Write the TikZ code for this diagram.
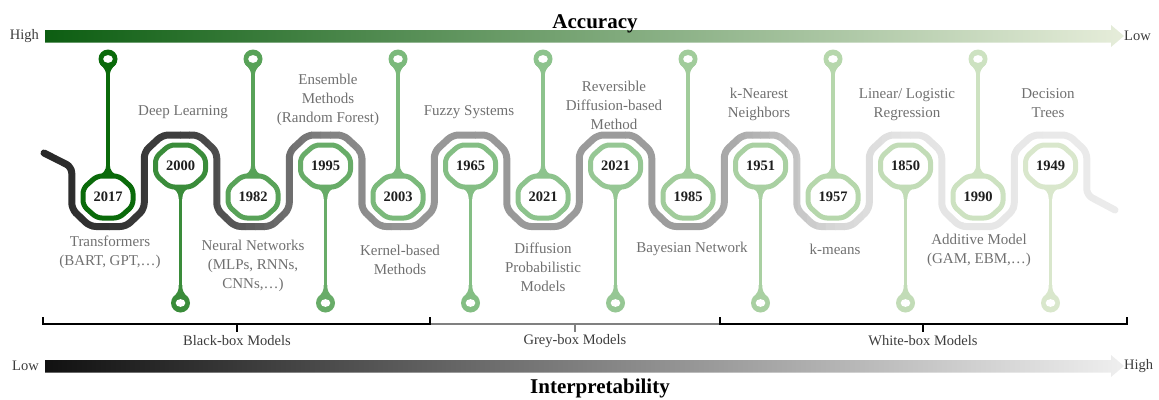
\documentclass[tikz,border=0pt]{standalone}
\usepackage{fontspec}
\setmainfont{Liberation Serif}
\definecolor{labelgray}{HTML}{707070}
\definecolor{yeargray}{HTML}{1E1E1E}
\definecolor{axgray}{HTML}{3C3C3C}
\definecolor{accdark}{HTML}{0D5E12}
\definecolor{accmid}{HTML}{9DBC95}
\definecolor{acclight}{HTML}{E6EDDA}
\definecolor{intdark}{HTML}{111111}
\definecolor{intmid}{HTML}{A5A5A5}
\definecolor{intlight}{HTML}{EFEFEF}
\definecolor{c0}{HTML}{0A6A0A}
\definecolor{c1}{HTML}{3A8C3A}
\definecolor{c2}{HTML}{58A258}
\definecolor{c3}{HTML}{68AC68}
\definecolor{c4}{HTML}{7BB97B}
\definecolor{c5}{HTML}{84BE84}
\definecolor{c6}{HTML}{8DC38D}
\definecolor{c7}{HTML}{96C794}
\definecolor{c8}{HTML}{A1CC9B}
\definecolor{c9}{HTML}{A9D0A2}
\definecolor{c10}{HTML}{B6D7AC}
\definecolor{c11}{HTML}{C2DCB7}
\definecolor{c12}{HTML}{CDE2C1}
\definecolor{c13}{HTML}{D9E7CC}
\begin{document}
\begin{tikzpicture}[x=1pt,y=-1pt,
  snakeline/.style={line width=7pt,line cap=round,line join=round,rounded corners=6pt},
  hexline/.style={line width=5pt,rounded corners=5pt,fill=white},
  stemline/.style={line width=3.5pt},
  lbl/.style={text=labelgray,font=\fontsize{15}{19}\selectfont,align=center},
  yr/.style={text=yeargray,font=\fontsize{14.5}{16}\selectfont\bfseries,inner sep=0pt},
  brk/.style={line width=1.8pt},
  axlbl/.style={text=axgray,font=\fontsize{14.5}{16}\selectfont,inner sep=1pt},
  ttl/.style={text=black,font=\fontsize{21}{24}\selectfont\bfseries,anchor=base}]
\useasboundingbox (0,0) rectangle (1159,399);

\shade[left color=accdark,middle color=accmid,right color=acclight] (45,30) -- (1111,30) -- (1111,25) -- (1124,36) -- (1111,47) -- (1111,42.5) -- (45,42.5) -- cycle;
\shade[left color=intdark,middle color=intmid,right color=intlight] (45,360) -- (1111,360) -- (1111,355) -- (1124,366) -- (1111,377) -- (1111,372.5) -- (45,372.5) -- cycle;
\node[ttl] (acc) at (595,28) {Accuracy};
\node[ttl] (intp) at (600,393) {Interpretability};
\node[axlbl,anchor=east] (acchi) at (40,36) {High};
\node[axlbl,anchor=west] (acclo) at (1123,36) {Low};
\node[axlbl,anchor=east] (intlo) at (40,366) {Low};
\node[axlbl,anchor=west] (inthi) at (1123,366) {High};

\foreach \xa/\ga/\xb/\gb in {38/40/180/62, 180/62/255/95, 255/95/330/130, 330/130/400/150, 400/150/700/158, 700/158/760/180, 760/180/835/215, 835/215/910/228, 910/228/1122/236}{
  \foreach \k in {0,...,7}{
    \pgfmathsetmacro\xl{\xa+(\xb-\xa)*\k/8}
    \pgfmathsetmacro\xr{\xa+(\xb-\xa)*(\k+1)/8+0.6}
    \pgfmathsetmacro\gv{(\ga+(\gb-\ga)*(\k+0.5)/8)/255}
    \definecolor{snakecol}{gray}{\gv}
    \begin{scope}
      \clip (\xl,120) rectangle (\xr,240);
      \draw[snakeline,draw=snakecol] (44,153) -- (71.75,167)
        -- (71.75,209) -- (90,226.5) -- (126,226.5) -- (144.25,209)
        -- (144.25,152) -- (162.5,135) -- (198.5,135) -- (216.75,152)
        -- (216.75,209) -- (235,226.5) -- (271,226.5) -- (289.25,209)
        -- (289.25,152) -- (307.5,135) -- (343.5,135) -- (361.75,152)
        -- (361.75,209) -- (380,226.5) -- (416,226.5) -- (434.25,209)
        -- (434.25,152) -- (452.5,135) -- (488.5,135) -- (506.75,152)
        -- (506.75,209) -- (525,226.5) -- (561,226.5) -- (579.25,209)
        -- (579.25,152) -- (597.5,135) -- (633.5,135) -- (651.75,152)
        -- (651.75,209) -- (670,226.5) -- (706,226.5) -- (724.25,209)
        -- (724.25,152) -- (742.5,135) -- (778.5,135) -- (796.75,152)
        -- (796.75,209) -- (815,226.5) -- (851,226.5) -- (869.25,209)
        -- (869.25,152) -- (887.5,135) -- (923.5,135) -- (941.75,152)
        -- (941.75,209) -- (960,226.5) -- (996,226.5) -- (1014.25,209)
        -- (1014.25,152) -- (1032.5,135) -- (1068.5,135) -- (1086.75,152)
        -- (1086.75,195) -- (1115,210);
    \end{scope}
  }
}

\foreach \yr/\col/\cy/\ry/\dir [count=\i from 0] in {2017/c0/197/59/-1, 2000/c1/166/303/1, 1982/c2/197/59/-1, 1995/c3/166/303/1, 2003/c4/197/59/-1, 1965/c5/166/303/1, 2021/c6/197/59/-1, 2021/c7/166/303/1, 1985/c8/197/59/-1, 1951/c9/166/303/1, 1957/c10/197/59/-1, 1850/c11/166/303/1, 1990/c12/197/59/-1, 1949/c13/166/303/1}{
  \pgfmathsetmacro\cx{108+72.5*\i}
  \pgfmathsetmacro\ha{\cy+(\dir)*33}
  \pgfmathsetmacro\hb{\cy+(\dir)*26}
  \pgfmathsetmacro\hc{\cy+(\dir)*23}
  \pgfmathsetmacro\hd{\cy+(\dir)*20.5}
  \pgfmathsetmacro\ra{\ry-(\dir)*5}
  \pgfmathsetmacro\rb{\ry-(\dir)*10}
  \pgfmathsetmacro\rc{\ry-(\dir)*12}
  \pgfmathsetmacro\rd{\ry-(\dir)*18}
  \coordinate (h\i) at (\cx,\hd);
  \coordinate (r\i) at (\cx,\ry);
  \draw[stemline,draw=\col] (h\i) -- (r\i);
  \fill[\col] (\cx-1.75,\ha) .. controls (\cx-1.75,\hb) and (\cx-5,\hc) .. (\cx-12,\hd) -- (\cx+12,\hd) .. controls (\cx+5,\hc) and (\cx+1.75,\hb) .. (\cx+1.75,\ha) -- cycle;
  \fill[\col] (r\i) circle (9.5);
  \fill[\col] (\cx-8,\ra) .. controls (\cx-3,\rb) and (\cx-1.75,\rc) .. (\cx-1.75,\rd) -- (\cx+1.75,\rd) .. controls (\cx+1.75,\rc) and (\cx+3,\rb) .. (\cx+8,\ra) -- cycle;
  \fill[white] (r\i) ellipse [x radius=4.8, y radius=3.9];
  \draw[hexline,draw=\col] (\cx-11,\cy-21) -- (\cx+11,\cy-21) -- (\cx+25,\cy-8.5) -- (\cx+25,\cy+8.5) -- (\cx+11,\cy+21) -- (\cx-11,\cy+21) -- (\cx-25,\cy+8.5) -- (\cx-25,\cy-8.5) -- cycle;
  \node[yr] (y\i) at (\cx,\cy) {\yr};
}

\node[lbl] (l0) at (110,252) {Transformers\\(BART, GPT,\ldots)};
\node[lbl] (l1) at (183,112) {Deep Learning};
\node[lbl] (l2) at (253,266) {Neural Networks\\(MLPs, RNNs,\\CNNs,\ldots)};
\node[lbl] (l3) at (328,100) {Ensemble\\Methods\\(Random Forest)};
\node[lbl] (l4) at (400,260) {Kernel-based\\Methods};
\node[lbl] (l5) at (469,112) {Fuzzy Systems};
\node[lbl] (l6) at (543,267) {Diffusion\\Probabilistic\\Models};
\node[lbl] (l7) at (614,105) {Reversible\\Diffusion-based\\Method};
\node[lbl] (l8) at (692,249) {Bayesian Network};
\node[lbl] (l9) at (759,104) {k-Nearest\\Neighbors};
\node[lbl] (l10) at (835,249) {k-means};
\node[lbl] (l11) at (907,105) {Linear/ Logistic\\Regression};
\node[lbl] (l12) at (979,250) {Additive Model\\(GAM, EBM,\ldots)};
\node[lbl] (l13) at (1048,103) {Decision\\Trees};

\draw[brk,draw=gray] (430,324) -- (720,324);
\draw[brk,draw=gray] (575,324) -- (575,332);
\draw[brk] (43,317) -- (43,324) -- (430,324) -- (430,317);
\draw[brk] (237,324) -- (237,332);
\draw[brk] (720,317) -- (720,324) -- (1127,324) -- (1127,317);
\draw[brk] (923,324) -- (923,332);
\node[axlbl] (bbox) at (237,341) {Black-box Models};
\node[axlbl] (gbox) at (575,341) {Grey-box Models};
\node[axlbl] (wbox) at (923,341) {White-box Models};
\end{tikzpicture}
\end{document}
